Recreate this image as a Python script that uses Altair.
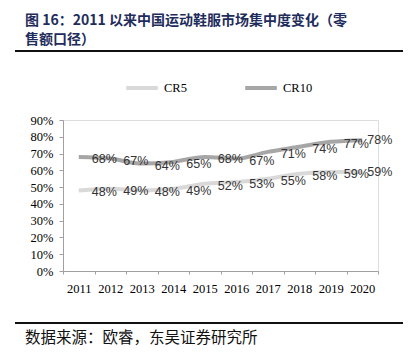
import altair as alt
import pandas as pd

years = ["2011", "2012", "2013", "2014", "2015", "2016", "2017", "2018", "2019", "2020"]
cr5 = [0.48, 0.49, 0.48, 0.49, 0.52, 0.53, 0.55, 0.58, 0.59, 0.59]
cr10 = [0.68, 0.67, 0.64, 0.65, 0.68, 0.67, 0.71, 0.74, 0.77, 0.78]
series = ["CR5", "CR10"]
colors = ["#d9d9d9", "#a6a6a6"]
y_ticks = [0, 0.1, 0.2, 0.3, 0.4, 0.5, 0.6, 0.7, 0.8, 0.9]
title_lines = ["图 16：2011 以来中国运动鞋服市场集中度变化（零", "售额口径）"]
source = "数据来源：欧睿，东吴证券研究所"

rows = []
for s, vals in zip(series, [cr5, cr10]):
    for y, v in zip(years, vals):
        rows.append({"year": y, "series": s, "value": v})
df = pd.DataFrame(rows)

x_enc = alt.X("year:N", sort=years, title=None,
              scale=alt.Scale(paddingInner=0, paddingOuter=0),
              axis=alt.Axis(labelAngle=0, tickBand="extent", labelFont="Liberation Serif",
                            labelFontSize=12.5, labelColor="#000", labelPadding=8,
                            domainColor="#a0a0a0", tickColor="#a0a0a0", tickSize=3, grid=False))
y_enc = alt.Y("value:Q", title=None,
              scale=alt.Scale(domain=[0, 0.9]),
              axis=alt.Axis(format=".0%", values=y_ticks, labelOverlap=False,
                            labelFont="Liberation Serif", labelFontSize=12.5, labelColor="#000",
                            labelPadding=6, domainColor="#a0a0a0", tickColor="#a0a0a0",
                            tickSize=4, grid=False))
color_enc = alt.Color("series:N", title=None,
                      scale=alt.Scale(domain=series, range=colors),
                      legend=alt.Legend(orient="none", legendX=61, legendY=-50, direction="horizontal",
                                        symbolType="stroke", symbolStrokeWidth=4, symbolSize=1000,
                                        labelFont="Liberation Serif", labelFontSize=12.5,
                                        labelColor="#000", columnPadding=50, labelOffset=4))

base = alt.Chart(df)
lines = base.mark_line(strokeWidth=4, interpolate="monotone").encode(
    x=x_enc, y=y_enc, color=color_enc)

labels_main = base.transform_filter(alt.datum.year != "2020").mark_text(
    align="left", baseline="middle", dx=13, dy=2, font="Liberation Sans", fontSize=12.5,
    color="#333").encode(x=x_enc, y=y_enc, text=alt.Text("value:Q", format=".0%"))
labels_last = base.transform_filter(alt.datum.year == "2020").mark_text(
    align="left", baseline="middle", dx=5, dy=0, font="Liberation Sans", fontSize=12.5,
    color="#333").encode(x=x_enc, y=y_enc, text=alt.Text("value:Q", format=".0%"))

deco = pd.DataFrame({"k": [0]})
t1 = alt.Chart(deco).mark_text(align="left", baseline="middle", font="Noto Sans CJK SC",
                               fontSize=14, fontWeight="bold", color="#1f2d5c").encode(
    x=alt.value(-38), y=alt.value(-99), text=alt.value(title_lines[0]))
t2 = alt.Chart(deco).mark_text(align="left", baseline="middle", font="Noto Sans CJK SC",
                               fontSize=14, fontWeight="bold", color="#1f2d5c").encode(
    x=alt.value(-38), y=alt.value(-80), text=alt.value(title_lines[1]))
r1 = alt.Chart(deco).mark_rule(color="#111", strokeWidth=2).encode(
    x=alt.value(-48), x2=alt.value(340), y=alt.value(-69))
r2 = alt.Chart(deco).mark_rule(color="#111", strokeWidth=2).encode(
    x=alt.value(-48), x2=alt.value(340), y=alt.value(203))
src = alt.Chart(deco).mark_text(align="left", baseline="middle", font="Noto Sans CJK SC",
                                fontSize=15.5, color="#111").encode(
    x=alt.value(-38), y=alt.value(218), text=alt.value(source))

chart = alt.layer(lines, labels_main, labels_last, t1, t2, r1, r2, src).properties(
    width=315, height=151,
    autosize=alt.AutoSizeParams(type="none"),
    padding={"left": 55, "top": 112, "right": 29, "bottom": 79},
).configure_view(stroke=None).configure(background="white")

chart.save("out.html", embed_options={"renderer": "svg", "actions": False})
